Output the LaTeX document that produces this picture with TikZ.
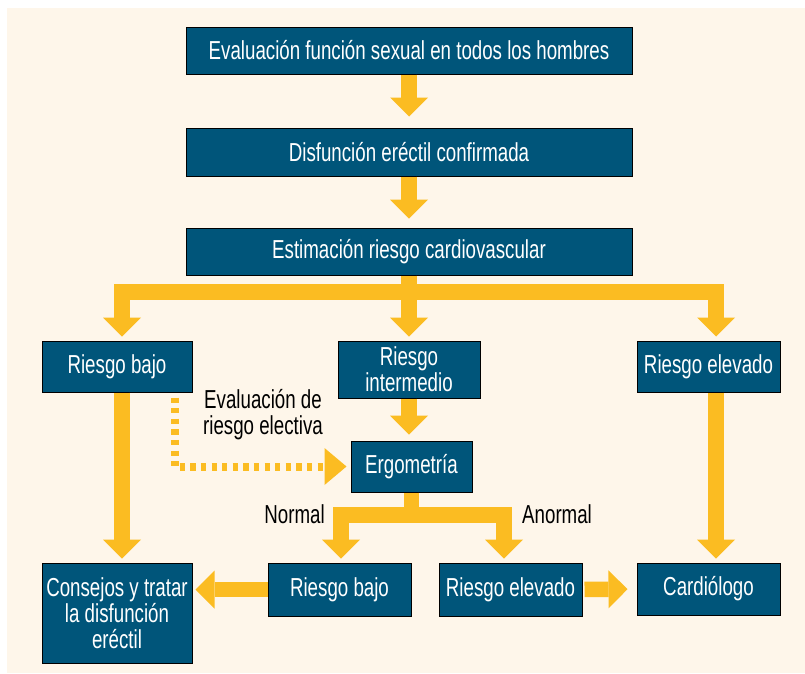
\documentclass[tikz,border=0pt]{standalone}
\usepackage{xcolor}
\usepackage{fontspec}
\setmainfont{Liberation Sans}[FakeStretch=0.72]
\usepackage{tikz}
\usetikzlibrary{positioning, arrows.meta, calc}
\definecolor{CVBlue}{RGB}{0,85,122}
\definecolor{CVGold}{RGB}{251,188,34}
\definecolor{CVCream}{RGB}{254,246,234}

\begin{document}
\begin{tikzpicture}[x=1pt, y=-1pt,
      box/.style={rectangle, draw=black, line width=1pt, fill=CVBlue, text=white,
                  inner sep=0pt, align=center, minimum width=143pt, minimum height=52pt,
                  font=\fontsize{26}{26}\selectfont},
      wide/.style={box, minimum width=446pt, minimum height=47pt},
      lbl/.style={inner sep=0pt, align=center, text=black, font=\fontsize{26}{26}\selectfont},
      fat/.style={draw=CVGold, line width=15.5pt},
      fatarr/.style={fat, -{Triangle[width=38pt, length=19pt, line width=0pt]}},
      dotarr/.style={draw=CVGold, line width=8pt, dash pattern=on 5.3pt off 5.3pt,
                     -{Triangle[width=37pt, length=22pt, line width=0pt]}}
    ]
    \useasboundingbox (0,0) rectangle (805,673);
    \fill[CVCream] (7,8) rectangle (805,673);

    % top chain
    \node[wide] (eval) at (409,50.5) {Evaluación función sexual en todos los hombres};
    \node[wide, minimum height=48pt] (disf) at (409,152) {Disfunción eréctil confirmada};
    \node[wide] (est) at (409,251.5) {Estimación riesgo cardiovascular};

    % risk levels
    \node[box, minimum width=150pt, minimum height=51pt] (bajo) at (117,366.5) {Riesgo bajo};
    \node[box, minimum width=142pt, minimum height=57pt] (inter) at (409,369.5) {Riesgo\\intermedio};
    \node[box, minimum height=51pt] (elev) at (708.5,366.5) {Riesgo elevado};
    \node[box, minimum width=121pt, minimum height=51pt] (ergo) at (411.5,466.5) {Ergometría};

    % outcomes
    \node[box, minimum width=150pt, minimum height=100pt] (cons) at (117,613) {Consejos y tratar\\la disfunción\\eréctil};
    \node[box, minimum height=53pt] (rb2) at (339.5,589.5) {Riesgo bajo};
    \node[box, minimum height=53pt] (re2) at (510.5,589.5) {Riesgo elevado};
    \node[box] (card) at (708.5,589) {Cardiólogo};

    % labels
    \node[lbl] (electiva) at (263,415) {Evaluación de\\riesgo electiva};
    \node[lbl, anchor=east] (normal) at (325,514) {Normal};
    \node[lbl, anchor=west] (anormal) at (522,514) {Anormal};

    % arrows
    \draw[fatarr, shorten >=11pt] (eval) -- (disf);
    \draw[fatarr, shorten >=9pt] (disf) -- (est);

    \coordinate (split) at (409,292);
    \draw[fat] (est.south) -- (split);
    \draw[fatarr, shorten >=4pt] (split) -| ([xshift=5pt]bajo.north);
    \draw[fatarr, shorten >=4pt] (split) -- (inter.north);
    \draw[fatarr, shorten >=4pt] (split) -| ([xshift=7.5pt]elev.north);

    \draw[fatarr, shorten >=6pt] (inter.south) -- (inter.south |- ergo.north);
    \draw[dotarr, shorten >=4pt] ([xshift=-18pt, yshift=-5pt]bajo.south east) |- (ergo.west);

    \coordinate (split2) at (411.5,515);
    \draw[fat] (ergo.south) -- (split2);
    \draw[fatarr, shorten >=4pt] (split2) -| ([xshift=1.5pt]rb2.north);
    \draw[fatarr, shorten >=4pt] (split2) -| ([xshift=-6.5pt]re2.north);

    \draw[fatarr, shorten >=4pt] ([xshift=5pt]bajo.south) -- ([xshift=5pt]cons.north);
    \draw[fatarr, shorten >=4pt] ([xshift=7.5pt]elev.south) -- ([xshift=7.5pt]card.north);
    \draw[fatarr, shorten >=3pt] (rb2.west) -- (rb2.west -| cons.east);
    \draw[fatarr, shorten <=2pt, shorten >=9pt] (re2) -- (card);
  \end{tikzpicture}
\end{document}
